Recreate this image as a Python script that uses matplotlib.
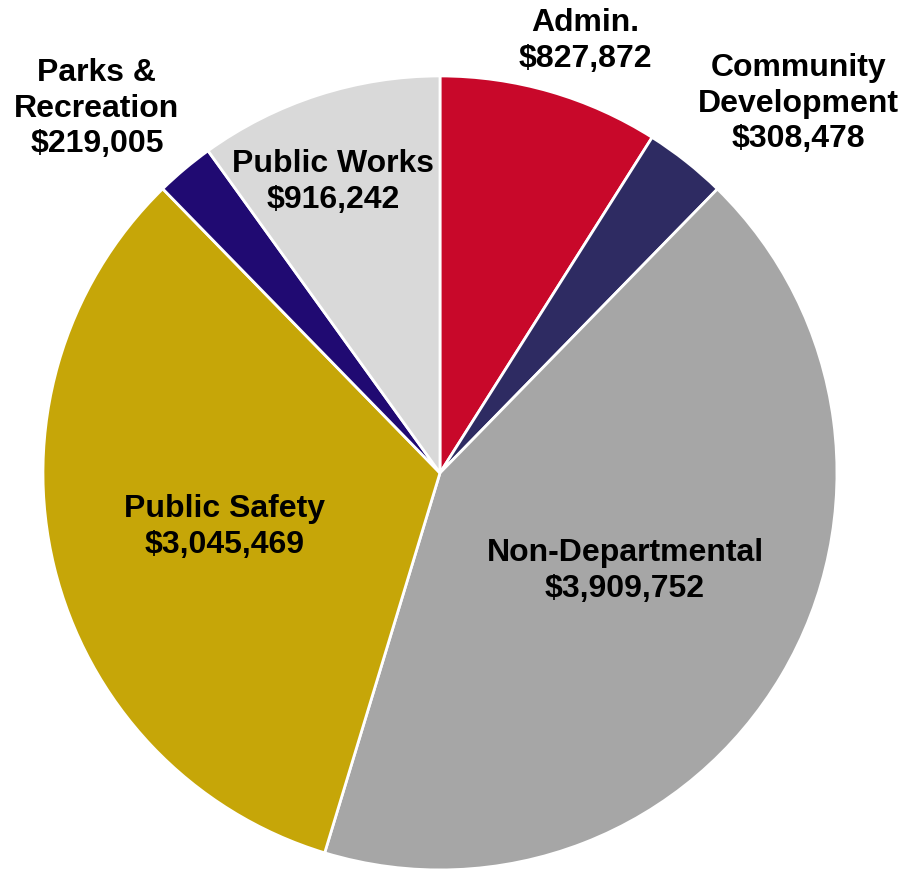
import matplotlib.pyplot as plt

# budget by department, clockwise from 12 o'clock
departments = ['Admin.', 'Community\nDevelopment', 'Non-Departmental',
               'Public Safety', 'Parks &\nRecreation', 'Public Works']
amounts = [827872, 308478, 3909752, 3045469, 219005, 916242]
colors = ['#C8082A', '#2E2B62', '#A6A6A6', '#C6A608', '#200A72', '#D9D9D9']

# label anchor points in pie units (radius = 1)
label_pos = [(0.365, 1.088), (0.902, 0.93), (0.466, -0.247),
             (-0.542, -0.136), (-0.864, 0.918), (-0.270, 0.733)]

plt.rcParams['font.family'] = ['Liberation Sans', 'DejaVu Sans']

fig = plt.figure(figsize=(8.99, 8.71), dpi=100)
ax = fig.add_axes([0.0478, 0.0012, 0.8832, 0.9116])
ax.pie(amounts, colors=colors, startangle=90, counterclock=False,
       radius=1.0, wedgeprops=dict(edgecolor='white', linewidth=2))
ax.set_xlim(-1, 1)
ax.set_ylim(-1, 1)
ax.set_aspect('equal')
ax.axis('off')

for name, amt, (x, y) in zip(departments, amounts, label_pos):
    ax.text(x, y, f'{name}\n${amt:,}', ha='center', va='center',
            fontsize=23, fontweight='bold', color='black',
            linespacing=1.24, clip_on=False)

fig.savefig('out.png', dpi=100)
